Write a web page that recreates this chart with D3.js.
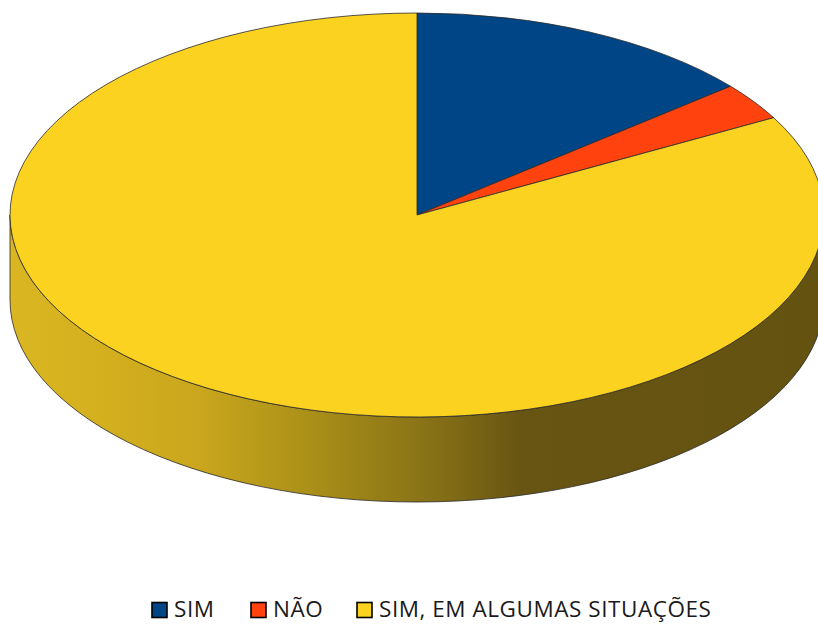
<!DOCTYPE html>
<html><head><meta charset="utf-8">
<script src="https://cdn.jsdelivr.net/npm/d3@7"></script>
<style>body{margin:0;background:#fff;}svg{display:block;}</style>
</head><body>
<svg id="c" width="818" height="624"></svg>
<script>
const categories = ["SIM", "NÃO", "SIM, EM ALGUMAS SITUAÇÕES"];
const values = [14, 3, 83];
const colors = ["#004586", "#ff420e", "#fcd220"];

const svg = d3.select("#c");
const cx = 417, cy = 215, rx = 407, ry = 202, depth = 85;

const pie = d3.pie().sort(null).value(d => d.v);
const arcs = pie(categories.map((c, i) => ({c, v: values[i], col: colors[i]})));

const px = a => cx + rx * Math.sin(a);
const py = a => cy - ry * Math.cos(a);

// side gradient
const defs = svg.append("defs");
const g = defs.append("linearGradient").attr("id", "side")
  .attr("gradientUnits", "userSpaceOnUse")
  .attr("x1", cx - rx).attr("x2", cx + rx).attr("y1", 0).attr("y2", 0);
[[0, "#dab622"], [0.11, "#d4b01f"], [0.234, "#c9a61c"], [0.357, "#ad9219"],
 [0.517, "#877116"], [0.628, "#685513"], [1, "#645211"]].forEach(s =>
  g.append("stop").attr("offset", s[0]).attr("stop-color", s[1]));

// sides (front half only: angles between PI/2 and 3PI/2)
arcs.forEach(d => {
  const a0 = Math.max(d.startAngle, Math.PI / 2), a1 = Math.min(d.endAngle, 3 * Math.PI / 2);
  if (a1 <= a0) return;
  const large = (a1 - a0) > Math.PI ? 1 : 0;
  const p = `M${px(a0)},${py(a0)} A${rx},${ry} 0 ${large} 1 ${px(a1)},${py(a1)}`
    + ` L${px(a1)},${py(a1) + depth} A${rx},${ry} 0 ${large} 0 ${px(a0)},${py(a0) + depth} Z`;
  svg.append("path").attr("d", p).attr("fill", "url(#side)")
    .attr("stroke", "#2a2a2a").attr("stroke-width", 0.8).attr("stroke-linejoin", "round");
});

// tops
const arcGen = d3.arc().innerRadius(0).outerRadius(rx);
svg.append("g").attr("transform", `translate(${cx},${cy}) scale(1,${ry / rx})`)
  .selectAll("path").data(arcs).join("path")
  .attr("d", arcGen)
  .attr("fill", d => d.data.col)
  .attr("stroke", "#2a2a2a").attr("stroke-width", 0.8)
  .attr("vector-effect", "non-scaling-stroke").attr("stroke-linejoin", "round");

// legend
const legendX = [152, 251, 357];
const lg = svg.append("g").attr("font-family", "'Open Sans', sans-serif").attr("font-size", 22.5)
  .attr("letter-spacing", 0.55).attr("fill", "#1a1a1a");
categories.forEach((c, i) => {
  lg.append("rect").attr("x", legendX[i]).attr("y", 602.5).attr("width", 15).attr("height", 15)
    .attr("fill", colors[i]).attr("stroke", "#000").attr("stroke-width", 1.6);
  lg.append("text").attr("x", legendX[i] + 22).attr("y", 617).text(c);
});
</script>
</body></html>
